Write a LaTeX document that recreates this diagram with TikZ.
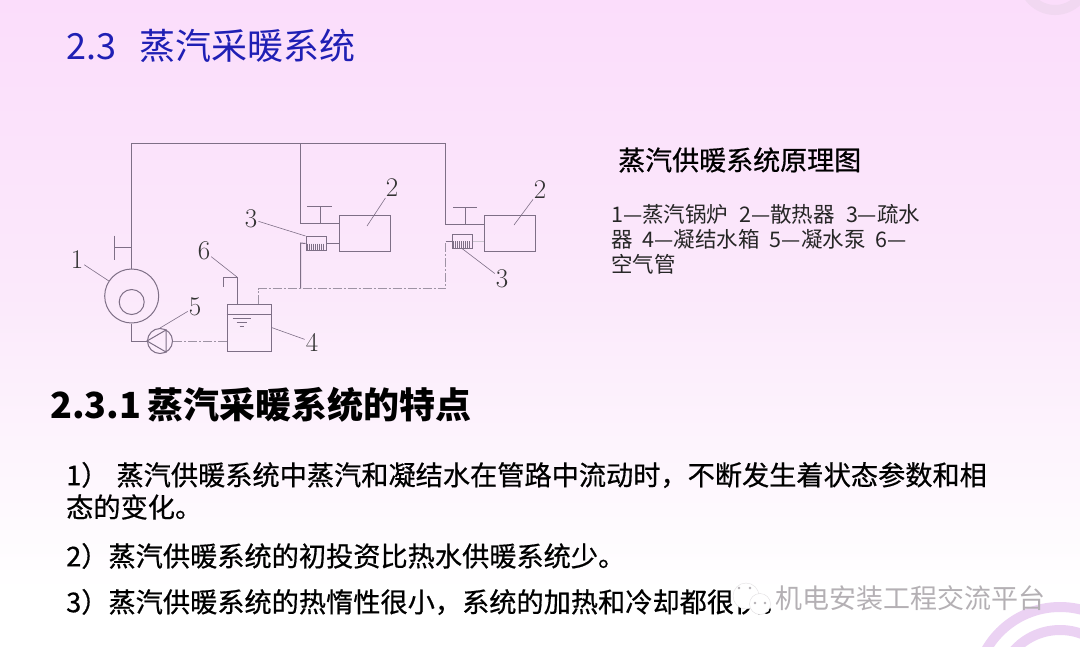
\documentclass[tikz,border=0pt]{standalone}
\usepackage{fontspec}
\usetikzlibrary{positioning, calc}
\newfontfamily\cjk{Noto Sans CJK SC}
\newfontfamily\cjkmed[FakeBold=0.6]{Noto Sans CJK SC}
\definecolor{pipecol}{HTML}{7E6F86}
\definecolor{ringcol}{HTML}{EBD2F3}
\definecolor{ringtop}{HTML}{F1D8F1}
\definecolor{bgtop}{HTML}{FBDDFB}
\definecolor{bgmid}{HTML}{FBE9FB}
\definecolor{titleblue}{HTML}{1F1FB4}
\definecolor{markgray}{HTML}{B4B0B4}

\begin{document}
\begin{tikzpicture}[
    x=1pt, y=-1pt,
    pipe/.style={draw=pipecol, line width=1pt},
    return/.style={draw=pipecol!75, line width=1pt, dash pattern=on 9pt off 2pt on 2pt off 2pt},
    leader/.style={draw=pipecol, line width=0.6pt, shorten <=1pt},
    equip/.style={rectangle, draw=pipecol, line width=1pt, inner sep=0pt, fill=none},
    trapbox/.style={equip, minimum width=20pt, minimum height=14pt},
    radiator/.style={equip, minimum width=51pt, minimum height=35.5pt},
    num/.style={font=\fontsize{27}{27}\selectfont, text=black!80, inner sep=0pt},
    ring/.style={draw=ringcol, line width=10pt, fill=none},
    bodytext/.style={anchor=west, inner sep=0pt, font=\fontsize{27.2}{27.2}\cjkmed}
]

% Background
\clip (0,0) rectangle (1080,646);
\shade[top color=bgtop, bottom color=white, middle color=bgmid] (0,0) rectangle (1080,590);
\draw[ring, draw=ringtop] (1055,-22) circle[radius=32];
\foreach \r in {85,62,40} {
    \draw[ring] (1060,692) circle[radius=\r];
}

% Title and headings
\node[anchor=west, inner sep=0pt, text=titleblue, font=\fontsize{36}{36}\cjk] (title) at (66,46) {2.3\hspace{23pt}蒸汽采暖系统};
\node[anchor=west, inner sep=0pt, font=\fontsize{36}{36}\cjk\bfseries] (heading) at (50,405) {2.3.1\hspace{6pt}蒸汽采暖系统的特点};
\node[anchor=west, inner sep=0pt, font=\fontsize{27}{27}\cjkmed] (caption) at (618,160) {蒸汽供暖系统原理图};
\node[anchor=north west, inner sep=0pt, align=left, text=black!85, font=\fontsize{21.5}{25}\cjk] (legend) at (611,204)
    {1—蒸汽锅炉\hspace{11pt}2—散热器\hspace{11pt}3—疏水\\器\hspace{10pt}4—凝结水箱\hspace{10pt}5—凝水泵\hspace{10pt}6—\\空气管};

% Body text
\node[bodytext] (line1) at (66,475) {1）\hspace{8pt}蒸汽供暖系统中蒸汽和凝结水在管路中流动时，不断发生着状态参数和相};
\node[bodytext] (line2) at (66,507) {态的变化。};
\node[bodytext] (line3) at (66,556) {2）蒸汽供暖系统的初投资比热水供暖系统少。};
\node[bodytext] (line4) at (66,602) {3）蒸汽供暖系统的热惰性很小，系统的加热和冷却都很快。};

% Equipment
\node[circle, draw=pipecol, line width=1pt, minimum size=54pt, inner sep=0pt] (boiler) at (131.7,296) {};
\node[circle, draw=pipecol, line width=1pt, minimum size=25pt, inner sep=0pt] (furnace) at (131.7,302) {};
\node[circle, draw=pipecol, line width=1pt, minimum size=25pt, inner sep=0pt] (pump) at (160,341) {};
\node[equip, minimum width=44pt, minimum height=47pt] (tank) at (249,327.5) {};
\node[radiator] (radone) at (364.5,233.7) {};
\node[radiator] (radtwo) at (510,233.7) {};
\node[trapbox] (trapone) at (316,243.5) {};
\node[trapbox] (traptwo) at (462,241) {};

% Pipe corners
\coordinate (topleft) at (131.7,143.5);
\coordinate (topmid) at (300,143.5);
\coordinate (topright) at (445,143.5);
\coordinate (supone) at (300,223);
\coordinate (suptwo) at (445,224.7);
\coordinate (inone) at (339,223);
\coordinate (intwo) at (485,224.7);
\coordinate (stemone) at (320,223);
\coordinate (capone) at (320,206);
\coordinate (stemtwo) at (465,224.7);
\coordinate (captwo) at (465,207);
\coordinate (stemboil) at (131.7,247.7);
\coordinate (capboil) at (114,247.7);
\coordinate (downone) at (300.5,243);
\coordinate (joinone) at (300.5,288.7);
\coordinate (backtank) at (258,288.7);
\coordinate (tanktop) at (258,304);
\coordinate (joinright) at (445.7,288.7);
\coordinate (upright) at (445.7,241);
\coordinate (airbase) at (237,304);
\coordinate (airtop) at (237,277);
\coordinate (airleft) at (223,277);
\coordinate (airend) at (223,287);
\coordinate (boilbase) at (131.7,341);

% Steam pipes
\draw[pipe] (boiler.north) -- (topleft) -- (topright) -- (suptwo) -- (intwo);
\draw[pipe] (topmid) -- (supone) -- (inone);
\draw[pipe] (stemone) -- (capone);
\draw[pipe] ($(capone)+(-13,0)$) -- ($(capone)+(12,0)$);
\draw[pipe] (stemtwo) -- (captwo);
\draw[pipe] ($(captwo)+(-12,0)$) -- ($(captwo)+(12,0)$);
\draw[pipe] (stemboil) -- (capboil);
\draw[pipe] ($(capboil)+(0,-12)$) -- ($(capboil)+(0,12)$);

% Condensate pipes
\draw[pipe] (trapone.east) -- (radone.west |- trapone.east);
\draw[pipe] (trapone.west) -- (downone) -- (joinone);
\draw[return] (tanktop) -- (backtank) -- (joinright) -- (upright);
\draw[pipe] (upright) -- (traptwo.west);
\draw[pipe, draw=pipecol!40] (traptwo.east) -- (radtwo.west |- traptwo.east);
\draw[pipe] (airbase) -- (airtop) -- (airleft) -- (airend);
\draw[pipe] (boiler.south) -- (boilbase) -- (pump.west);
\draw[return] (tank.west |- pump.east) -- (pump.east);

% Tank and pump details
\draw[pipe] ($(tank.north west)+(0,11)$) -- ($(tank.north east)+(0,11)$);
\draw[pipe] ($(tank.north west)+(6,15)$) -- ($(tank.north west)+(24,15)$);
\draw[pipe] ($(tank.north west)+(10,19)$) -- ($(tank.north west)+(20,19)$);
\draw[pipe] ($(tank.north west)+(13,23)$) -- ($(tank.north west)+(17,23)$);
\draw[pipe] (pump.west) -- ($(pump.center)+(6,-11)$) -- ($(pump.center)+(6,11)$) -- cycle;
\foreach \x in {2,4,...,18} {
    \draw[pipe, line width=0.5pt] ($(trapone.west)+(\x,0)$) -- ($(trapone.south west)+(\x,0)$);
    \draw[pipe, line width=0.5pt] ($(traptwo.west)+(\x,0)$) -- ($(traptwo.south west)+(\x,0)$);
}

% Number labels
\node[num] (numboiler) at (77,260) {1};
\node[num] (numradone) at (392,188) {2};
\node[num] (numradtwo) at (540,190) {2};
\node[num] (numtrapone) at (251,219) {3};
\node[num] (numtraptwo) at (502,279) {3};
\node[num] (numtank) at (312,342) {4};
\node[num] (numpump) at (195,307) {5};
\node[num] (numair) at (204,251) {6};

% Leaders
\coordinate (ptradone) at (367,226);
\coordinate (ptradtwo) at (514,225);
\draw[leader] (numboiler) -- (boiler);
\draw[leader] (numradone) -- (ptradone);
\draw[leader] (numradtwo) -- (ptradtwo);
\draw[leader] (numtrapone) -- (trapone.north west);
\draw[leader] (numtraptwo) -- (traptwo.south);
\draw[leader] (numtank) -- (tank.east);
\draw[leader] (numpump) -- (pump.north);
\draw[leader] (numair) -- (airtop);

% Watermark
\node[circle, fill=white, draw=markgray!40, minimum size=26pt, inner sep=0pt] (markback) at (746,596) {};
\node[circle, fill=white, draw=markgray!40, minimum size=21pt, inner sep=0pt] (markfront) at (760,604) {};
\foreach \px/\py in {739/588, 750/588, 755/603, 765/603} {
    \fill[markgray] (\px,\py) circle[radius=1.3];
}
\node[anchor=west, inner sep=0pt, text=markgray, font=\fontsize{27}{27}\cjk] (mark) at (775,598) {机电安装工程交流平台};

\end{tikzpicture}
\end{document}
